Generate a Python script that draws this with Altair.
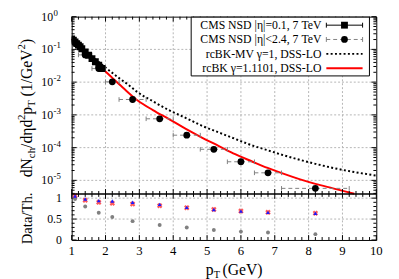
import altair as alt
import pandas as pd

# ---------------- data ----------------
cms01_pt = [1.0, 1.05, 1.1, 1.15, 1.2, 1.25, 1.3, 1.4, 1.5, 1.6, 1.7, 1.8, 1.9]
cms01_val = [0.21, 0.19, 0.17, 0.15, 0.135, 0.12, 0.105, 0.083, 0.066, 0.052, 0.042, 0.033, 0.026]

cms24_pt = [1.1, 1.4, 1.8, 2.2, 2.8, 3.6, 4.4, 5.2, 6.0, 6.8, 8.2]
cms24_lo = [1.0, 1.2, 1.6, 2.0, 2.4, 3.2, 4.0, 4.8, 5.6, 6.4, 7.2]
cms24_hi = [1.2, 1.6, 2.0, 2.4, 3.2, 4.0, 4.8, 5.6, 6.4, 7.2, 9.2]
cms24_val = [0.16, 0.068, 0.026, 0.0102, 2.95e-3, 7.6e-4, 2.4e-4, 8.9e-5, 3.7e-5, 1.7e-5, 5.7e-6]

mv_pt = [1.0, 1.3, 1.59, 2.0, 2.35, 2.7, 2.94, 3.4, 3.9, 4.4, 4.86, 5.35, 5.83, 6.3, 6.79,
         7.25, 7.75, 8.2, 8.72, 9.35, 10.0]
mv_val = [0.2, 0.105, 0.062, 0.028, 0.0145, 7.9e-3, 5.0e-3, 2.6e-3, 1.35e-3, 7.8e-4, 4.6e-4,
          2.9e-4, 1.85e-4, 1.2e-4, 8.3e-5, 5.9e-5, 4.2e-5, 3.2e-5, 2.4e-5, 1.8e-5, 1.4e-5]

rc_pt = [1.0, 1.25, 1.5, 1.75, 2.0, 2.2, 2.5, 2.94, 3.4, 3.9, 4.4, 4.86, 5.35, 5.83, 6.3,
         6.79, 7.25, 7.75, 8.2, 8.72, 9.35]
rc_val = [0.21, 0.115, 0.065, 0.037, 0.021, 0.0135, 7.0e-3, 2.8e-3, 1.4e-3, 7.2e-4, 3.6e-4,
          2.0e-4, 1.12e-4, 6.3e-5, 3.9e-5, 2.4e-5, 1.6e-5, 1.07e-5, 7.8e-6, 5.7e-6, 3.9e-6]

ratio_pt = [1.1, 1.4, 1.8, 2.2, 2.8, 3.6, 4.4, 5.2, 6.0, 6.8, 8.2]
ratio_grey = [0.98, 0.80, 0.65, 0.55, 0.45, 0.36, 0.30, 0.24, 0.20, 0.18, 0.14]
ratio_red = [1.06, 0.95, 0.90, 0.88, 0.86, 0.82, 0.77, 0.73, 0.69, 0.66, 0.64]
ratio_blue = [1.05, 0.98, 0.94, 0.93, 0.90, 0.85, 0.78, 0.73, 0.69, 0.66, 0.64]

legend_labels = ["CMS NSD |η|=0.1, 7 TeV", "CMS NSD |η|<2.4, 7 TeV",
                 "rcBK-MV γ=1, DSS-LO", "rcBK γ=1.1101, DSS-LO"]

x_major = [1, 2, 3, 4, 5, 6, 7, 8, 9, 10]
x_labels = ["1", "2", "3", "4", "5", "6", "7", "8", "9", "10"]
x_minor = [round(1 + 0.2 * i, 1) for i in range(46) if i % 5 != 0]
ytop_major = [1e-5, 1e-4, 1e-3, 1e-2, 1e-1, 1.0]
ytop_exp = ["-5", "-4", "-3", "-2", "-1", "0"]
YMIN = 3.85e-6
ytop_minor = [m * 10.0 ** k for k in range(-6, 0) for m in range(2, 10) if YMIN <= m * 10.0 ** k <= 1]
ybot_major = [0, 0.5, 1.0]
ybot_lab = ["0", "0.5", "1"]
ybot_minor = [0.1, 0.2, 0.3, 0.4, 0.6, 0.7, 0.8, 0.9]

# ---------------- layout ----------------
FONT = "Liberation Serif"
GRID = "#b4b4b4"
W, H, HT = 311, 228, 181
one = pd.DataFrame({"k": [0]})

xs = alt.Scale(domain=[1, 10], nice=False, zero=False)
ys_top = alt.Scale(type="log", domain=[YMIN, 1], range=[HT, 0], nice=False)
ys_bot = alt.Scale(domain=[0, 1.1], range=[H, HT], nice=False, zero=False)


def X(f):
    return alt.X(f, type="quantitative", scale=xs, axis=None)


def YT(f):
    return alt.Y(f, type="quantitative", scale=ys_top, axis=None)


def YB(f):
    return alt.Y(f, type="quantitative", scale=ys_bot, axis=None)


def vtext(txt, x, y, size, **kw):
    return alt.Chart(one).mark_text(text=txt, fontSize=size, font=FONT, color="black", **kw).encode(
        x=alt.value(x), y=alt.value(y))


def vrule(x, x2, y, y2, **kw):
    return alt.Chart(one).mark_rule(**kw).encode(
        x=alt.value(x), x2=alt.value(x2), y=alt.value(y), y2=alt.value(y2))


# ---------------- top panel ----------------
top = []
# vertical grid through both panels
top.append(alt.Chart(pd.DataFrame({"x": x_major[1:-1]})).mark_rule(
    color=GRID, strokeDash=[2, 2], strokeWidth=1).encode(x=X("x"), y=alt.value(0), y2=alt.value(H)))
top.append(alt.Chart(pd.DataFrame({"y": ytop_major[:-1]})).mark_rule(
    color=GRID, strokeDash=[2, 2], strokeWidth=1).encode(y=YT("y"), x=alt.value(0), x2=alt.value(W)))

mv = pd.DataFrame({"x": mv_pt, "y": mv_val})
rc = pd.DataFrame({"x": rc_pt, "y": rc_val})
top.append(alt.Chart(mv).mark_line(color="black", strokeWidth=2, strokeDash=[2, 2.4],
                                   interpolate="monotone", clip=True).encode(x=X("x"), y=YT("y")))
top.append(alt.Chart(rc).mark_line(color="#ff0000", strokeWidth=2, interpolate="monotone",
                                   clip=True).encode(x=X("x"), y=YT("y")))

c24 = pd.DataFrame({"x": cms24_pt, "lo": cms24_lo, "hi": cms24_hi, "y": cms24_val})
top.append(alt.Chart(c24).mark_rule(color="#808080", strokeDash=[4, 3], strokeWidth=1, clip=True).encode(
    x=X("lo"), x2=alt.X2("hi"), y=YT("y")))
caps = pd.DataFrame({"x": cms24_lo + cms24_hi, "y": cms24_val + cms24_val})
top.append(alt.Chart(caps).mark_point(shape="M0,-1L0,1", size=22, filled=False, color="#808080",
                                      strokeWidth=1, opacity=1, clip=True).encode(x=X("x"), y=YT("y")))
top.append(alt.Chart(c24).mark_point(shape="circle", filled=True, size=48, color="black", opacity=1,
                                     clip=True).encode(x=X("x"), y=YT("y")))
c01 = pd.DataFrame({"x": cms01_pt, "y": cms01_val})
top.append(alt.Chart(c01).mark_point(shape="square", filled=True, size=49, color="black", opacity=1,
                                     clip=True).encode(x=X("x"), y=YT("y")))

# inward ticks
for xv, ln in ((x_major, 5), (x_minor, 3)):
    d = pd.DataFrame({"x": xv})
    top.append(alt.Chart(d).mark_rule(color="black", strokeWidth=1).encode(
        x=X("x"), y=alt.value(0), y2=alt.value(ln)))
    top.append(alt.Chart(d).mark_rule(color="black", strokeWidth=1).encode(
        x=X("x"), y=alt.value(HT), y2=alt.value(HT - ln)))
for yv, ln in ((ytop_major, 5), (ytop_minor, 3)):
    d = pd.DataFrame({"y": yv})
    top.append(alt.Chart(d).mark_rule(color="black", strokeWidth=1).encode(
        y=YT("y"), x=alt.value(0), x2=alt.value(ln)))
    top.append(alt.Chart(d).mark_rule(color="black", strokeWidth=1).encode(
        y=YT("y"), x=alt.value(W), x2=alt.value(W - ln)))

# y tick labels 10^n
lab = pd.DataFrame({"y": ytop_major, "e": ytop_exp})
top.append(alt.Chart(lab).mark_text(text="10", font=FONT, fontSize=12, align="right", baseline="middle",
                                    color="black").encode(y=YT("y"), x=alt.value(-19)))
top.append(alt.Chart(lab).mark_text(font=FONT, fontSize=9, align="left", baseline="middle", dy=-4,
                                    color="black").encode(y=YT("y"), x=alt.value(-18.5), text="e:N"))

# legend
top.append(alt.Chart(one).mark_rect(fill="white", stroke="black", strokeWidth=1).encode(
    x=alt.value(122), x2=alt.value(304), y=alt.value(0.5), y2=alt.value(60.5)))
rows = [8.7, 23.3, 38.0, 52.7]
for lbl, ry in zip(legend_labels, rows):
    top.append(vtext(lbl, 255, ry, 12, align="right", baseline="middle"))
# row 1
top.append(vrule(260, 297, rows[0], rows[0], color="black", strokeWidth=1))
top.append(vrule(260, 260, rows[0] - 2.5, rows[0] + 2.5, color="black", strokeWidth=1))
top.append(vrule(297, 297, rows[0] - 2.5, rows[0] + 2.5, color="black", strokeWidth=1))
top.append(alt.Chart(one).mark_point(shape="square", filled=True, size=49, color="black", opacity=1).encode(
    x=alt.value(278.5), y=alt.value(rows[0])))
# row 2
top.append(vrule(260, 297, rows[1], rows[1], color="#808080", strokeWidth=1, strokeDash=[4, 3]))
top.append(vrule(260, 260, rows[1] - 2.5, rows[1] + 2.5, color="#808080", strokeWidth=1))
top.append(vrule(297, 297, rows[1] - 2.5, rows[1] + 2.5, color="#808080", strokeWidth=1))
top.append(alt.Chart(one).mark_point(shape="circle", filled=True, size=48, color="black", opacity=1).encode(
    x=alt.value(278.5), y=alt.value(rows[1])))
# row 3, 4
top.append(vrule(260, 297, rows[2], rows[2], color="black", strokeWidth=2, strokeDash=[2, 2.4]))
top.append(vrule(260, 297, rows[3], rows[3], color="#ff0000", strokeWidth=2))

# y title with sub/superscripts (rotated)
cw = {"d": .5, "N": .722, "c": .444, "h": .5, "/": .278, "η": .5, "2": .5, "p": .5, "T": .611,
      "(": .333, "1": .5, "G": .722, "e": .444, "V": .722, ")": .333, " ": .25}
pieces = [("dN", 16, 0), ("ch", 11, 3.5), ("/dηd", 16, 0), ("2", 11, -6.5), ("p", 16, 0),
          ("T", 11, 3.5), (" ", 16, 0), ("(1/GeV", 16, 0), ("2", 11, -6.5), (")", 16, 0)]
cum = 0.0
for t, s, d in pieces:
    if t.strip():
        top.append(alt.Chart(one).mark_text(text=t, fontSize=s, font=FONT, color="black", angle=270,
                                            align="left", baseline="alphabetic", dx=cum, dy=d).encode(
            x=alt.value(-41), y=alt.value(164)))
    cum += sum(cw.get(ch, .5) for ch in t) * s

top_layer = alt.layer(*top)

# ---------------- bottom panel ----------------
bot = []
d = pd.DataFrame({"x": x_major, "t": x_labels})
bot.append(alt.Chart(d).mark_rule(color="black", strokeWidth=1).encode(
    x=X("x"), y=alt.value(H), y2=alt.value(H - 5)))
bot.append(alt.Chart(d).mark_rule(color="black", strokeWidth=1).encode(
    x=X("x"), y=alt.value(HT), y2=alt.value(HT + 5)))
bot.append(alt.Chart(d).mark_text(font=FONT, fontSize=13, align="center", baseline="top",
                                  color="black").encode(x=X("x"), y=alt.value(H + 5), text="t:N"))
dm = pd.DataFrame({"x": x_minor})
bot.append(alt.Chart(dm).mark_rule(color="black", strokeWidth=1).encode(
    x=X("x"), y=alt.value(H), y2=alt.value(H - 3)))
bot.append(alt.Chart(dm).mark_rule(color="black", strokeWidth=1).encode(
    x=X("x"), y=alt.value(HT), y2=alt.value(HT + 3)))

bot.append(alt.Chart(pd.DataFrame({"y": [0.5, 1.0]})).mark_rule(
    color=GRID, strokeDash=[2, 2], strokeWidth=1).encode(y=YB("y"), x=alt.value(0), x2=alt.value(W)))
for yv, ln in ((ybot_major, 5), (ybot_minor, 3)):
    dd = pd.DataFrame({"y": yv})
    bot.append(alt.Chart(dd).mark_rule(color="black", strokeWidth=1).encode(
        y=YB("y"), x=alt.value(0), x2=alt.value(ln)))
    bot.append(alt.Chart(dd).mark_rule(color="black", strokeWidth=1).encode(
        y=YB("y"), x=alt.value(W), x2=alt.value(W - ln)))

rat = pd.DataFrame({"x": ratio_pt, "g": ratio_grey, "r": ratio_red, "b": ratio_blue})
bot.append(alt.Chart(rat).mark_point(shape="circle", filled=True, size=16, color="#808080", opacity=1).encode(
    x=X("x"), y=YB("g")))
bot.append(alt.Chart(rat).mark_point(shape="cross", angle=45, filled=True, size=32, color="#ff3030",
                                     opacity=0.8).encode(x=X("x"), y=YB("r")))
bot.append(alt.Chart(rat).mark_point(shape="triangle-up", filled=True, size=16, color="#1a1aff",
                                     opacity=1).encode(x=X("x"), y=YB("b")))

bl = pd.DataFrame({"y": ybot_major, "t": ybot_lab})
bot.append(alt.Chart(bl).mark_text(font=FONT, fontSize=12, align="right", baseline="middle",
                                   color="black").encode(y=YB("y"), x=alt.value(-10), text="t:N"))

bot.append(vrule(0, W, HT, HT, color="black", strokeWidth=1.5))

bot.append(vtext("Data/Th.", -41, 206, 15, angle=270, align="center", baseline="alphabetic"))
bot.append(vtext("p", 137, 263.5, 16, align="left", baseline="alphabetic"))
bot.append(vtext("T", 145, 263.5, 10.5, align="left", baseline="alphabetic", dy=3.5))
bot.append(vtext("(GeV)", 154, 263.5, 16, align="left", baseline="alphabetic"))

bot_layer = alt.layer(*bot)

chart = alt.layer(top_layer, bot_layer).resolve_scale(y="independent").properties(
    width=W, height=H,
    autosize=alt.AutoSizeParams(type="none"),
    padding={"left": 65, "top": 6, "right": 15, "bottom": 37},
).configure_view(stroke="black", strokeWidth=1)

chart.save("out.html", embed_options={"renderer": "svg", "actions": False})
